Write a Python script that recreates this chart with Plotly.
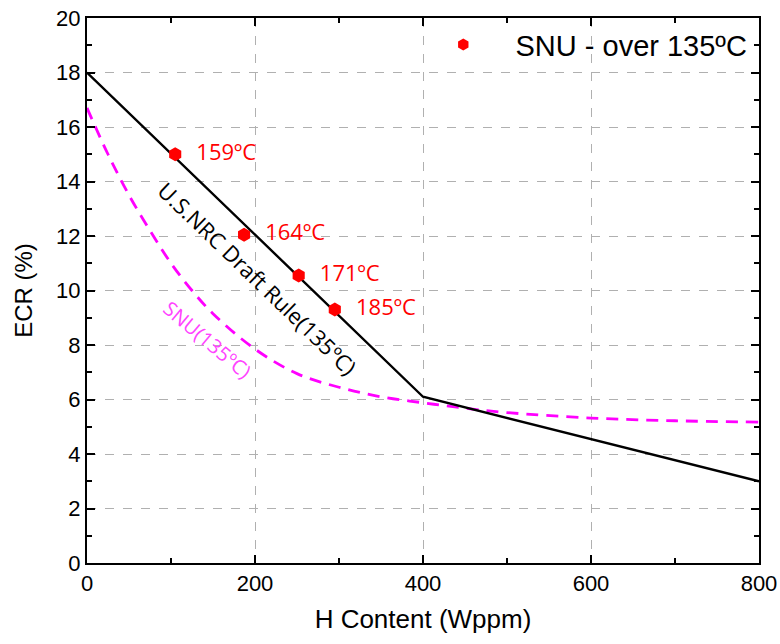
import plotly.graph_objects as go

# NRC draft rule limit (piecewise linear)
nrc_h = [0, 400, 800]
nrc_ecr = [18.0, 6.1, 3.0]

# SNU 135ºC criterion curve
snu_h = [0, 25, 50, 75, 100, 125, 150, 200, 250, 300, 350, 400, 450, 500, 600, 700, 800]
snu_ecr = [16.7, 15.0, 13.5, 12.2, 11.0, 10.0, 9.15, 7.85, 6.95, 6.45, 6.1, 5.88, 5.68, 5.52, 5.32, 5.22, 5.17]

# SNU test points above 135ºC
pt_h = [105, 187, 252, 295]
pt_ecr = [15.0, 12.05, 10.55, 9.3]
pt_labels = ["159ºC", "164ºC", "171ºC", "185ºC"]

fig = go.Figure()

fig.add_trace(go.Scatter(
    x=snu_h, y=snu_ecr, mode="lines",
    line=dict(color="#ff00ff", width=2.8, dash="12px,8px", shape="spline"),
    showlegend=False, hoverinfo="skip"))

fig.add_trace(go.Scatter(
    x=nrc_h, y=nrc_ecr, mode="lines", line=dict(color="black", width=2.4),
    showlegend=False, hoverinfo="skip"))

fig.add_trace(go.Scatter(
    x=pt_h, y=pt_ecr, mode="markers+text", name="\u00a0\u00a0\u00a0\u00a0SNU - over 135ºC",
    marker=dict(symbol="hexagon", color="red", size=14, line=dict(width=0)),
    text=["\u00a0\u00a0" + t for t in pt_labels], textposition="middle right",
    textfont=dict(family="Open Sans", size=22, color="red")))

fig.add_annotation(x=203, y=10.45, text="U.S.NRC Draft Rule(135ºC)", showarrow=False,
                   textangle=44, font=dict(family="Open Sans", size=22, color="black"),
                   xref="x", yref="y")
fig.add_annotation(x=143, y=8.2, text="SNU(135ºC)", showarrow=False,
                   textangle=40, font=dict(family="Open Sans", size=20, color="#ff44ff"),
                   xref="x", yref="y")

axis_common = dict(
    showline=True, linecolor="black", linewidth=2, mirror="ticks",
    ticks="inside", ticklen=8, tickwidth=1.5, tickcolor="black",
    showgrid=True, gridcolor="#b0b0b0", griddash="dash", gridwidth=1,
    zeroline=False, automargin=False,
    tickfont=dict(family="Arial", size=22, color="black"),
)

fig.update_xaxes(range=[0, 800], dtick=200,
                 minor=dict(dtick=100, ticks="inside", ticklen=5, tickcolor="black", showgrid=False),
                 title=dict(text="H Content (Wppm)", font=dict(family="Arial", size=26, color="black"), standoff=14),
                 **axis_common)
fig.update_yaxes(range=[0, 20], dtick=2,
                 minor=dict(dtick=1, ticks="inside", ticklen=5, tickcolor="black", showgrid=False),
                 title=dict(text="ECR (%)", font=dict(family="Arial", size=24, color="black"), standoff=17),
                 **axis_common)

fig.update_layout(
    width=780, height=644,
    margin=dict(l=87, r=21, t=18, b=81),
    plot_bgcolor="white", paper_bgcolor="white",
    legend=dict(x=0.99, y=0.998, xanchor="right", yanchor="top", bgcolor="rgba(0,0,0,0)",
                font=dict(family="Arial", size=29, color="black"), itemsizing="constant"),
)

fig.write_html("out.html")
